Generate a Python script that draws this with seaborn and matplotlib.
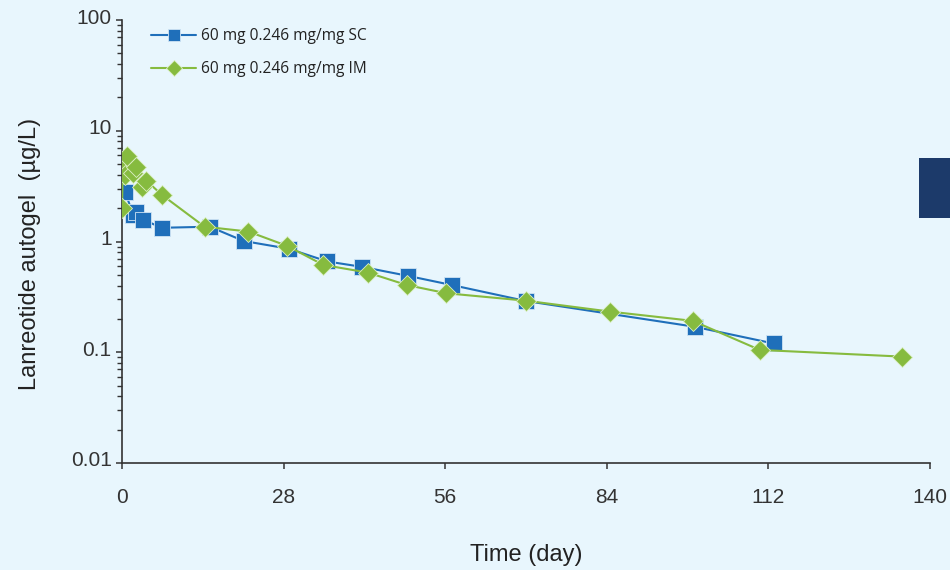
import numpy as np
import pandas as pd
import matplotlib
matplotlib.use("Agg")
import matplotlib.pyplot as plt
import matplotlib.transforms as mtransforms
from matplotlib.patches import Rectangle
from matplotlib.ticker import FixedLocator, FixedFormatter, LogLocator, NullFormatter
import seaborn as sns

# Données (jours, µg/L)
sc_days = [0.55, 1.9, 2.35, 3.7, 6.9, 15.2, 21.1, 28.9, 35.6, 41.6, 49.5, 57.1, 70.0, 99.2, 112.9]
sc_conc = [2.82, 1.74, 1.86, 1.57, 1.33, 1.36, 1.01, 0.86, 0.66, 0.59, 0.49, 0.405, 0.29, 0.17, 0.12]

im_days = [0.0, 0.15, 0.45, 0.85, 1.9, 2.45, 3.5, 4.2, 6.9, 14.3, 21.9, 28.6, 34.9, 42.6,
           49.3, 56.2, 70.0, 84.5, 98.9, 110.5, 135.2]
im_conc = [2.0, 4.75, 4.0, 5.93, 4.14, 4.75, 3.09, 3.55, 2.64, 1.36, 1.23, 0.913, 0.614, 0.524,
           0.405, 0.341, 0.292, 0.233, 0.192, 0.105, 0.0913]

labels = ["60 mg 0.246 mg/mg SC", "60 mg 0.246 mg/mg IM"]
x_ticks = [0, 28, 56, 84, 112, 140]
y_ticks = [0.01, 0.1, 1, 10, 100]
y_ticklabels = ["0.01", "0.1", "1", "10", "100"]

BG = "#E8F6FD"
BLUE = "#1F6FBA"
GREEN = "#86BB3F"
AXIS = "#333333"

sns.set_style("ticks")
plt.rcParams["font.family"] = ["Liberation Sans", "DejaVu Sans"]

fig = plt.figure(figsize=(9.5, 5.7), dpi=100, facecolor=BG)
ax = fig.add_axes([122 / 950, 1 - 463 / 570, (930 - 122) / 950, (463 - 20) / 570])
ax.set_facecolor(BG)

df_sc = pd.DataFrame({"day": sc_days, "conc": sc_conc})
df_im = pd.DataFrame({"day": im_days, "conc": im_conc})

sns.lineplot(data=df_sc, x="day", y="conc", ax=ax, color=BLUE, linewidth=1.5,
             marker="s", markersize=11, markeredgecolor="#cfe4f4", markeredgewidth=0.6,
             estimator=None, label=labels[0], zorder=3)
sns.lineplot(data=df_im, x="day", y="conc", ax=ax, color=GREEN, linewidth=1.5,
             marker="D", markersize=10, markeredgecolor="#dcefc6", markeredgewidth=0.6,
             estimator=None, label=labels[1], zorder=4)

ax.set_yscale("log")
ax.set_xlim(0, 140)
ax.set_ylim(0.01, 100)

ax.xaxis.set_major_locator(FixedLocator(x_ticks))
ax.yaxis.set_major_locator(FixedLocator(y_ticks))
ax.yaxis.set_major_formatter(FixedFormatter(y_ticklabels))
ax.yaxis.set_minor_locator(LogLocator(base=10, subs=np.arange(2, 10)))
ax.yaxis.set_minor_formatter(NullFormatter())
ax.xaxis.set_minor_locator(FixedLocator([]))

for side in ["top", "right"]:
    ax.spines[side].set_visible(False)
for side in ["left", "bottom"]:
    ax.spines[side].set_color(AXIS)
    ax.spines[side].set_linewidth(1.2)

ax.tick_params(axis="y", which="major", direction="out", length=4.5, width=1.1,
               color=AXIS, labelsize=15, labelcolor=AXIS, pad=3)
ax.tick_params(axis="y", which="minor", direction="out", length=3.5, width=1.0, color=AXIS)
ax.tick_params(axis="x", which="major", direction="out", length=4, width=1.1,
               color=AXIS, labelsize=15, labelcolor=AXIS, pad=14)

# labels de l'axe y un peu au-dessus des graduations, comme l'original
offset = mtransforms.ScaledTranslation(0, 4 / 100, fig.dpi_scale_trans)
for lab in ax.get_yticklabels():
    lab.set_transform(lab.get_transform() + offset)

ax.set_xlabel("Time (day)", fontsize=17, color="#222222")
ax.set_ylabel("Lanreotide autogel  (µg/L)", fontsize=17, color="#222222")
ax.xaxis.set_label_coords(0.5, -0.183)
ax.yaxis.set_label_coords(-0.1, 0.472)

leg = ax.legend(loc="upper left", bbox_to_anchor=(137 / 950, 1 - 14 / 570),
                bbox_transform=fig.transFigure, frameon=False,
                prop={"family": ["Open Sans", "DejaVu Sans"], "size": 11.2},
                handlelength=2.9, handletextpad=0.3, labelspacing=1.1, markerscale=0.8)
for t in leg.get_texts():
    t.set_color("#222222")

# Bandeau bleu foncé à droite
fig.patches.append(Rectangle((919 / 950, 1 - 218 / 570), 31 / 950, 60 / 570,
                             transform=fig.transFigure, facecolor="#1C3A6A",
                             edgecolor="none", zorder=5))

fig.savefig("out.png", dpi=100, facecolor=BG)
